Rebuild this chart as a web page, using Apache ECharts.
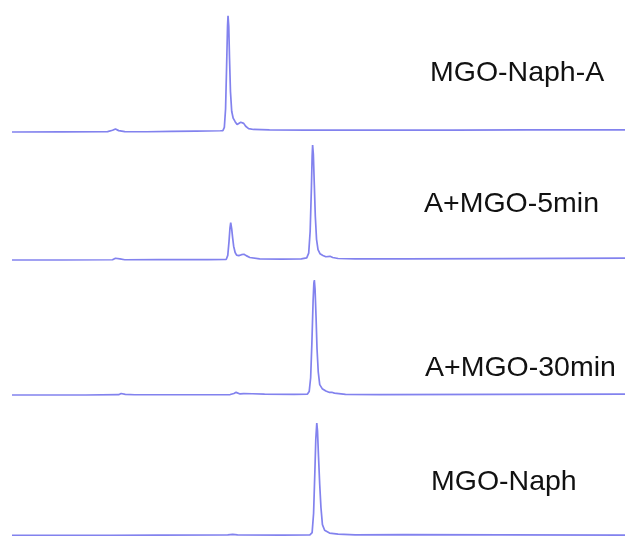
<!DOCTYPE html>
<html>
<head>
<meta charset="utf-8">
<script src="https://cdn.jsdelivr.net/npm/echarts@6/dist/echarts.min.js"></script>
<style>
  html, body { margin: 0; padding: 0; background: #ffffff; }
  #chart { width: 625px; height: 536px; }
</style>
</head>
<body>
<div id="chart"></div>
<script>
// Sample names, top to bottom
const sampleNames = ['MGO-Naph-A', 'A+MGO-5min', 'A+MGO-30min', 'MGO-Naph'];

// Chromatogram traces: [retention time (min), relative response (%)]
const traceNaphA = [
  [0, 0], [2, 0.1], [3.9, 0.3], [4.1, 1.5], [4.22, 2.6], [4.35, 1.2], [4.6, 0.3],
  [5.5, 0.2], [6.5, 0.5], [7.5, 0.8], [8.5, 1.1], [8.6, 1.2], [8.66, 4], [8.71, 20],
  [8.75, 55], [8.79, 92], [8.81, 101], [8.84, 92], [8.87, 65], [8.91, 35], [8.96, 18],
  [9.02, 12], [9.1, 9], [9.18, 6.5], [9.26, 7], [9.33, 8.5], [9.39, 8.8], [9.45, 7.5],
  [9.53, 5], [9.65, 3], [9.85, 2.2], [10.5, 1.8], [12, 1.6], [15, 1.7], [18, 1.6],
  [21, 1.8], [25, 1.8]
];

const trace5min = [
  [0, 0], [2, 0], [4.1, 0.2], [4.22, 1.5], [4.3, 2], [4.4, 1], [4.6, 0.2], [6, 0.3],
  [8, 0.4], [8.74, 0.6], [8.8, 4], [8.85, 16], [8.89, 28], [8.92, 32.5], [8.96, 27],
  [9.0, 19], [9.04, 12], [9.1, 6.5], [9.16, 4.3], [9.25, 3.8], [9.36, 4.6], [9.46, 5],
  [9.55, 3.8], [9.7, 2.2], [10.1, 1], [11, 0.8], [11.8, 1], [12.02, 1.8], [12.1, 6],
  [12.16, 25], [12.21, 62], [12.24, 90], [12.26, 100], [12.29, 92], [12.33, 65],
  [12.37, 38], [12.42, 18], [12.48, 9], [12.56, 5.5], [12.68, 4], [12.8, 2.8],
  [12.97, 3.2], [13.08, 2.2], [13.3, 1.3], [14, 0.9], [16, 1], [20, 1.2], [25, 1.7]
];

const trace30min = [
  [0, 0], [3, 0], [4.35, 0.3], [4.45, 1.3], [4.52, 1.5], [4.62, 0.6], [5, 0.2],
  [7, 0.2], [8.9, 0.4], [9.05, 1.3], [9.14, 2.3], [9.22, 1.5], [9.3, 0.9], [9.45, 1.2],
  [9.8, 1.1], [10.3, 0.7], [11.5, 0.5], [12.05, 0.8], [12.12, 3], [12.18, 15],
  [12.23, 45], [12.28, 82], [12.31, 97], [12.33, 100], [12.36, 92], [12.4, 68],
  [12.44, 40], [12.49, 20], [12.55, 9], [12.65, 5.5], [12.8, 3.5], [12.95, 2.2],
  [13.04, 2.4], [13.15, 1.6], [13.6, 0.6], [15, 0.4], [20, 0.6], [25, 0.8]
];

const traceNaph = [
  [0, 0.5], [4, 0.5], [6, 0.8], [8.8, 1], [9, 1.5], [9.2, 1], [11, 0.8], [12.15, 1],
  [12.24, 3], [12.3, 20], [12.35, 55], [12.39, 85], [12.43, 99], [12.46, 92],
  [12.5, 70], [12.55, 45], [12.6, 25], [12.66, 10], [12.75, 5], [12.95, 2.6],
  [13.3, 1.6], [14, 1], [16, 1.2], [20, 1], [25, 0.8]
];

const traces = [traceNaphA, trace5min, trace30min, traceNaph];

// Layout of the stacked panels (pixel baseline of each trace)
const baselines = [132, 260, 395, 537];
const panelHeight = 115;
const labelPos = [[430, 75], [424, 205.5], [425, 369.5], [431, 484]];
const lineColor = '#8282ee';

const chart = echarts.init(document.getElementById('chart'), null, { renderer: 'canvas' });

const grids = [], xAxes = [], yAxes = [], series = [], texts = [];
traces.forEach((data, i) => {
  grids.push({ left: 12, right: 0, top: baselines[i] - panelHeight, height: panelHeight });
  xAxes.push({ type: 'value', gridIndex: i, min: 0, max: 25, show: false });
  yAxes.push({ type: 'value', gridIndex: i, min: 0, max: 100, show: false });
  series.push({
    name: sampleNames[i],
    type: 'line',
    xAxisIndex: i,
    yAxisIndex: i,
    data: data,
    showSymbol: false,
    clip: false,
    lineStyle: { color: lineColor, width: 1.7 },
    silent: true
  });
  texts.push({
    type: 'text',
    left: labelPos[i][0],
    top: labelPos[i][1] - 16,
    style: {
      text: sampleNames[i],
      fontFamily: 'Liberation Sans, Arial, sans-serif',
      fontSize: 28.5,
      fill: '#111111'
    }
  });
});

chart.setOption({
  backgroundColor: '#ffffff',
  animation: false,
  grid: grids,
  xAxis: xAxes,
  yAxis: yAxes,
  series: series,
  graphic: texts
});
</script>
</body>
</html>
